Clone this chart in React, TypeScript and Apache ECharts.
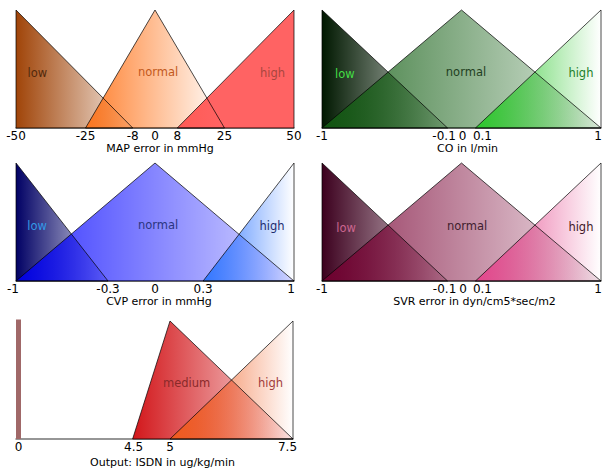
import React, { useEffect, useRef } from "react";
import * as echarts from "echarts";

// Triangular membership functions, written as [left foot, peak, right foot].
const MAP_TICKS = [-50, -25, -8, 0, 8, 25, 50];
const MAP_LOW = [-50, -50, -8];
const MAP_NORMAL = [-25, 0, 25];
const MAP_HIGH = [8, 50, 50];

const CO_TICKS = [-1, -0.1, 0, 0.1, 1];
const CO_LOW = [-1, -1, -0.1];
const CO_NORMAL = [-1, 0, 1];
const CO_HIGH = [0.1, 1, 1];

const CVP_TICKS = [-1, -0.3, 0, 0.3, 1];
const CVP_LOW = [-1, -1, -0.3];
const CVP_NORMAL = [-1, 0, 1];
const CVP_HIGH = [0.3, 1, 1];

const SVR_TICKS = [-1, -0.1, 0, 0.1, 1];
const SVR_LOW = [-1, -1, -0.1];
const SVR_NORMAL = [-1, 0, 1];
const SVR_HIGH = [0.1, 1, 1];

const ISDN_TICKS = [0, 4.5, 5, 7.5];
const ISDN_ZERO = [0, 0, 0];
const ISDN_MEDIUM = [4.5, 5, 7.5];
const ISDN_HIGH = [5, 7.5, 7.5];

const FONT = "DejaVu Sans";

type FuzzySet = {
  name: string;
  mf: number[];
  rgb: [number, number, number];
  a0: number;
  a1: number;
  text: string;
  at: [number, number];
  singleton?: boolean;
};

type Panel = {
  title: string;
  ticks: number[];
  tickAt?: number[];
  shift?: number[];
  grid: { left: number; top: number; width: number; height: number };
  nameGap: number;
  nameShift: number;
  sets: FuzzySet[];
};

const PANELS: Panel[] = [
  {
    title: "MAP error in mmHg",
    ticks: MAP_TICKS,
    grid: { left: 16, top: 10, width: 278, height: 118 },
    nameGap: 14,
    nameShift: 5,
    sets: [
      { name: "low", mf: MAP_LOW, rgb: [160, 68, 8], a0: 1, a1: 0.1, text: "#52290c", at: [0.077, 0.47] },
      { name: "normal", mf: MAP_NORMAL, rgb: [255, 112, 20], a0: 0.9, a1: 0, text: "#c2591c", at: [0.511, 0.475] },
      { name: "high", mf: MAP_HIGH, rgb: [255, 60, 60], a0: 0.8, a1: 0.8, text: "#a8463e", at: [0.923, 0.47] },
    ],
  },
  {
    title: "CO in l/min",
    ticks: CO_TICKS,
    shift: [0, -3.5, 1, 7, -3],
    grid: { left: 322, top: 10, width: 279, height: 118 },
    nameGap: 14,
    nameShift: 6,
    sets: [
      { name: "low", mf: CO_LOW, rgb: [0, 24, 0], a0: 1, a1: 0.15, text: "#44dd44", at: [0.082, 0.458] },
      { name: "normal", mf: CO_NORMAL, rgb: [20, 95, 20], a0: 0.85, a1: 0.15, text: "#1f3f1f", at: [0.516, 0.475] },
      { name: "high", mf: CO_HIGH, rgb: [45, 200, 45], a0: 1, a1: 0, text: "#22802a", at: [0.928, 0.47] },
    ],
  },
  {
    title: "CVP error in mmHg",
    ticks: CVP_TICKS,
    tickAt: [0, 0.331, 0.5, 0.673, 1],
    shift: [-3, 0, 0, 0, -3],
    grid: { left: 16, top: 163, width: 278, height: 118 },
    nameGap: 13,
    nameShift: 4,
    sets: [
      { name: "low", mf: CVP_LOW, rgb: [0, 0, 100], a0: 1, a1: 0.12, text: "#3399e6", at: [0.076, 0.466] },
      { name: "normal", mf: CVP_NORMAL, rgb: [0, 0, 255], a0: 0.8, a1: 0.15, text: "#2b3580", at: [0.511, 0.475] },
      { name: "high", mf: CVP_HIGH, rgb: [50, 120, 255], a0: 1, a1: 0, text: "#1e2c6e", at: [0.921, 0.466] },
    ],
  },
  {
    title: "SVR error in dyn/cm5*sec/m2",
    ticks: SVR_TICKS,
    shift: [0, -3, 1.5, 7, -3],
    grid: { left: 322, top: 163, width: 279, height: 118 },
    nameGap: 13,
    nameShift: 13,
    sets: [
      { name: "low", mf: SVR_LOW, rgb: [60, 0, 30], a0: 1, a1: 0.15, text: "#cc6690", at: [0.086, 0.453] },
      { name: "normal", mf: SVR_NORMAL, rgb: [120, 0, 50], a0: 0.82, a1: 0.12, text: "#40202e", at: [0.52, 0.466] },
      { name: "high", mf: SVR_HIGH, rgb: [228, 70, 140], a0: 1, a1: 0, text: "#401828", at: [0.928, 0.458] },
    ],
  },
  {
    title: "Output: ISDN in ug/kg/min",
    ticks: ISDN_TICKS,
    tickAt: [0.009, 0.421, 0.556, 1],
    shift: [0, 1, 0, -5.5],
    grid: { left: 16, top: 321, width: 277, height: 118 },
    nameGap: 18,
    nameShift: 8,
    sets: [
      { name: "zero", mf: ISDN_ZERO, rgb: [160, 104, 104], a0: 1, a1: 1, text: "", at: [0, 0], singleton: true },
      { name: "medium", mf: ISDN_MEDIUM, rgb: [210, 22, 26], a0: 1, a1: 0.1, text: "#8a2a2a", at: [0.616, 0.475] },
      { name: "high", mf: ISDN_HIGH, rgb: [240, 92, 30], a0: 1, a1: 0, text: "#a03a3a", at: [0.919, 0.475] },
    ],
  },
];

// Axis position (0..1) of each tick: given, or spaced linearly by value.
function tickPositions(p: Panel): number[] {
  if (p.tickAt) return p.tickAt;
  const lo = p.ticks[0];
  const hi = p.ticks[p.ticks.length - 1];
  return p.ticks.map((t) => (t - lo) / (hi - lo));
}

// Piecewise-linear scale from a value to its axis position through the ticks.
function makeScale(p: Panel) {
  const at = tickPositions(p);
  const t = p.ticks;
  return (v: number) => {
    let i = 0;
    while (i < t.length - 2 && v > t[i + 1]) i++;
    const f = (v - t[i]) / (t[i + 1] - t[i]);
    return at[i] + f * (at[i + 1] - at[i]);
  };
}

function rgba(c: [number, number, number], a: number) {
  return `rgba(${c[0]},${c[1]},${c[2]},${a})`;
}

function buildOption() {
  const grid: any[] = [];
  const xAxis: any[] = [];
  const yAxis: any[] = [];
  const series: any[] = [];

  PANELS.forEach((p, idx) => {
    const at = tickPositions(p);
    const scale = makeScale(p);
    const shift = p.shift || p.ticks.map(() => 0);
    const rich: Record<string, any> = {};
    p.ticks.forEach((_, i) => {
      const s = shift[i];
      rich["t" + i] = {
        fontFamily: FONT,
        fontSize: 12,
        color: "#000",
        padding: s < 0 ? [0, -2 * s, 0, 0] : [0, 0, 0, 2 * s],
      };
    });

    grid.push({
      left: p.grid.left,
      top: p.grid.top,
      width: p.grid.width,
      height: p.grid.height,
      containLabel: false,
      outerBoundsMode: "none",
    });
    xAxis.push({
      type: "value",
      gridIndex: idx,
      min: 0,
      max: 1,
      name: p.title,
      nameLocation: "middle",
      nameGap: p.nameGap,
      nameTextStyle: {
        fontFamily: FONT,
        fontSize: 11,
        color: "#000",
        padding: [0, 0, 0, 2 * p.nameShift],
      },
      axisLine: { show: true, lineStyle: { color: "rgba(0,0,0,0.55)", width: 1.5 } },
      axisTick: { show: false },
      splitLine: { show: false },
      axisLabel: {
        customValues: at,
        hideOverlap: false,
        showMinLabel: true,
        showMaxLabel: true,
        margin: 2,
        formatter: (val: number) => {
          let best = 0;
          at.forEach((a, i) => {
            if (Math.abs(a - val) < Math.abs(at[best] - val)) best = i;
          });
          return `{t${best}|${String(p.ticks[best])}}`;
        },
        rich,
      },
    });
    yAxis.push({ type: "value", gridIndex: idx, min: 0, max: 1, show: false });

    series.push({
      type: "custom",
      name: p.title,
      xAxisIndex: idx,
      yAxisIndex: idx,
      coordinateSystem: "cartesian2d",
      silent: true,
      data: [[0, 0]],
      renderItem: (_params: any, api: any) => {
        const fills: any[] = [];
        const lines: any[] = [];
        const texts: any[] = [];
        p.sets.forEach((s) => {
          if (s.singleton) {
            const [cx, y0] = api.coord([scale(s.mf[1]), 0]);
            const [, y1] = api.coord([scale(s.mf[1]), 1]);
            fills.push({
              type: "rect",
              shape: { x: cx - 2.5, y: y1 - 1.5, width: 5, height: y0 - y1 + 1.5 },
              style: { fill: rgba(s.rgb, s.a0) },
            });
            return;
          }
          const pts = [
            [s.mf[0], 0],
            [s.mf[1], 1],
            [s.mf[2], 0],
          ].map(([x, y]) => api.coord([scale(x), y]));
          fills.push({
            type: "polygon",
            shape: { points: pts },
            style: {
              fill: new echarts.graphic.LinearGradient(0, 0, 1, 0, [
                { offset: 0, color: rgba(s.rgb, s.a0) },
                { offset: 1, color: rgba(s.rgb, s.a1) },
              ]),
            },
          });
          lines.push({
            type: "polygon",
            shape: { points: pts },
            style: { fill: "none", stroke: "rgba(0,0,0,0.7)", lineWidth: 1 },
          });
          if (s.text) {
            const [tx, ty] = api.coord([s.at[0], s.at[1]]);
            texts.push({
              type: "text",
              x: tx,
              y: ty,
              style: {
                text: s.name,
                fill: s.text,
                font: `11.5px "${FONT}"`,
                align: "center",
                verticalAlign: "middle",
              },
            });
          }
        });
        return { type: "group", children: [...fills, ...lines, ...texts] };
      },
    });
  });

  return {
    animation: false,
    backgroundColor: "#ffffff",
    grid,
    xAxis,
    yAxis,
    series,
  };
}

export default function App() {
  const ref = useRef<HTMLDivElement>(null);
  useEffect(() => {
    if (!ref.current) return;
    const chart = echarts.init(ref.current, null, { renderer: "svg" });
    chart.setOption(buildOption() as any);
    return () => chart.dispose();
  }, []);
  return (
    <div
      ref={ref}
      style={{ position: "fixed", left: 0, top: 0, width: 602, height: 470, background: "#fff" }}
    />
  );
}
